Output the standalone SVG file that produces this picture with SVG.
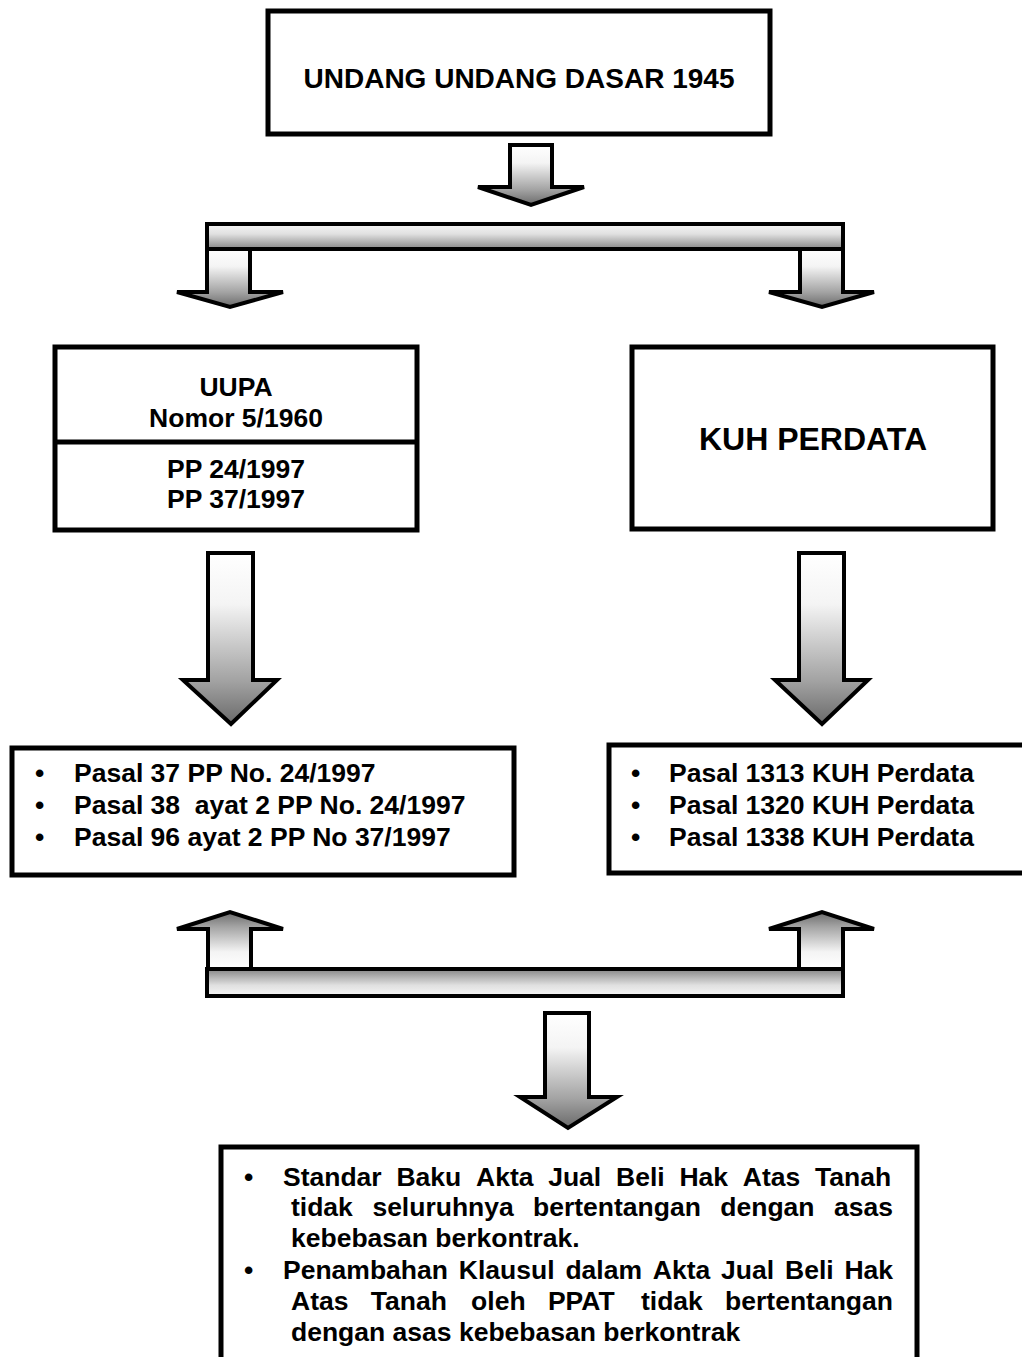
<svg xmlns="http://www.w3.org/2000/svg" width="1022" height="1357" viewBox="0 0 1022 1357">
<style>
  .box { fill: #ffffff; stroke: #000000; stroke-width: 5; }
  .arr { stroke: #000000; stroke-width: 4; stroke-linejoin: miter; }
  .t { font-family: "Liberation Sans", Arial, sans-serif; font-weight: bold; fill: #000000; }
  .c { text-anchor: middle; }
</style>
<defs>
  <linearGradient id="gDown" x1="0" y1="0" x2="0" y2="1">
    <stop offset="0" stop-color="#ffffff"/>
    <stop offset="0.3" stop-color="#f4f4f4"/>
    <stop offset="0.75" stop-color="#a2a2a2"/>
    <stop offset="1" stop-color="#6a6a6a"/>
  </linearGradient>
  <linearGradient id="gUp" x1="0" y1="1" x2="0" y2="0">
    <stop offset="0" stop-color="#ffffff"/>
    <stop offset="0.3" stop-color="#f4f4f4"/>
    <stop offset="0.75" stop-color="#a2a2a2"/>
    <stop offset="1" stop-color="#6a6a6a"/>
  </linearGradient>
  <linearGradient id="gBarTop" x1="0" y1="0" x2="0" y2="1">
    <stop offset="0" stop-color="#f6f6f6"/>
    <stop offset="0.4" stop-color="#e0e0e0"/>
    <stop offset="1" stop-color="#858585"/>
  </linearGradient>
  <linearGradient id="gBarBot" x1="0" y1="1" x2="0" y2="0">
    <stop offset="0" stop-color="#f6f6f6"/>
    <stop offset="0.4" stop-color="#e0e0e0"/>
    <stop offset="1" stop-color="#858585"/>
  </linearGradient>
</defs>

<g id="connectors">
  <path class="arr" fill="url(#gDown)" d="M510,145 L552,145 L552,187 L584,187 L531,205 L478,187 L510,187 Z"/>
  <rect class="arr" fill="url(#gBarTop)" x="207" y="224" width="636" height="25"/>
  <path class="arr" fill="url(#gDown)" d="M207,249 L250,249 L250,292 L283,292 L230,307 L177,292 L207,292 Z"/>
  <path class="arr" fill="url(#gDown)" d="M800,249 L843,249 L843,292 L874,292 L822,307 L769,292 L800,292 Z"/>
  <path class="arr" fill="url(#gDown)" d="M208,553 L253,553 L253,680 L277,680 L231,724 L183,680 L208,680 Z"/>
  <path class="arr" fill="url(#gDown)" d="M799,553 L844,553 L844,680 L868,680 L822,724 L775,680 L799,680 Z"/>
  <path class="arr" fill="url(#gUp)" d="M208,969 L251,969 L251,929 L283,929 L230,912 L177,929 L208,929 Z"/>
  <path class="arr" fill="url(#gUp)" d="M799,969 L843,969 L843,929 L874,929 L822,912 L769,929 L799,929 Z"/>
  <rect class="arr" fill="url(#gBarBot)" x="207" y="969" width="636" height="27"/>
  <path class="arr" fill="url(#gDown)" d="M545,1013 L589,1013 L589,1097 L617,1097 L568,1128 L520,1097 L545,1097 Z"/>
</g>

<g id="uud1945">
  <rect class="box" x="268" y="11" width="502" height="123"/>
  <text class="t c" x="519" y="88" font-size="28">UNDANG UNDANG DASAR 1945</text>
</g>

<g id="uupa">
  <rect class="box" x="55" y="347" width="362" height="183"/>
  <line x1="55" y1="442" x2="417" y2="442" stroke="#000000" stroke-width="5"/>
  <text class="t c" x="236" y="396" font-size="26.5">UUPA</text>
  <text class="t c" x="236" y="427" font-size="26.5">Nomor 5/1960</text>
  <text class="t c" x="236" y="478" font-size="26.5">PP 24/1997</text>
  <text class="t c" x="236" y="508" font-size="26.5">PP 37/1997</text>
</g>

<g id="kuhperdata">
  <rect class="box" x="632" y="347" width="361" height="182"/>
  <text class="t c" x="813" y="450" font-size="32">KUH PERDATA</text>
</g>

<g id="pasal-pp">
  <rect class="box" x="12" y="748" width="502" height="127"/>
  <g class="t" font-size="26.5">
    <text x="35" y="782">•</text>
    <text x="35" y="814">•</text>
    <text x="35" y="846">•</text>
    <text x="74" y="782">Pasal 37 PP No. 24/1997</text>
    <text x="74" y="814" xml:space="preserve">Pasal 38  ayat 2 PP No. 24/1997</text>
    <text x="74" y="846">Pasal 96 ayat 2 PP No 37/1997</text>
  </g>
</g>

<g id="pasal-kuh">
  <rect class="box" x="609" y="745" width="430" height="128"/>
  <g class="t" font-size="26.5">
    <text x="631" y="782">•</text>
    <text x="631" y="814">•</text>
    <text x="631" y="846">•</text>
    <text x="669" y="782">Pasal 1313 KUH Perdata</text>
    <text x="669" y="814">Pasal 1320 KUH Perdata</text>
    <text x="669" y="846">Pasal 1338 KUH Perdata</text>
  </g>
</g>

<g id="kesimpulan">
  <rect class="box" x="221" y="1147" width="696" height="230"/>
  <g class="t" font-size="26.5">
    <text x="244" y="1186">•</text>
    <text y="1186"><tspan x="283">Standar</tspan><tspan x="396.4">Baku</tspan><tspan x="476">Akta</tspan><tspan x="548.2">Jual</tspan><tspan x="616">Beli</tspan><tspan x="679.4">Hak</tspan><tspan x="742.8">Atas</tspan><tspan x="815">Tanah</tspan></text>
    <text y="1216"><tspan x="291">tidak</tspan><tspan x="372.4">seluruhnya</tspan><tspan x="533">bertentangan</tspan><tspan x="720.3">dengan</tspan><tspan x="834">asas</tspan></text>
    <text x="291" y="1247">kebebasan berkontrak.</text>
    <text x="244" y="1279">•</text>
    <text y="1279"><tspan x="283">Penambahan</tspan><tspan x="458.8">Klausul</tspan><tspan x="565.4">dalam</tspan><tspan x="652.8">Akta</tspan><tspan x="721.1">Jual</tspan><tspan x="785">Beli</tspan><tspan x="844.4">Hak</tspan></text>
    <text y="1310"><tspan x="291">Atas</tspan><tspan x="370.8">Tanah</tspan><tspan x="471.1">oleh</tspan><tspan x="547.9">PPAT</tspan><tspan x="641">tidak</tspan><tspan x="725.1">bertentangan</tspan></text>
    <text x="291" y="1341">dengan asas kebebasan berkontrak</text>
  </g>
</g>
</svg>
